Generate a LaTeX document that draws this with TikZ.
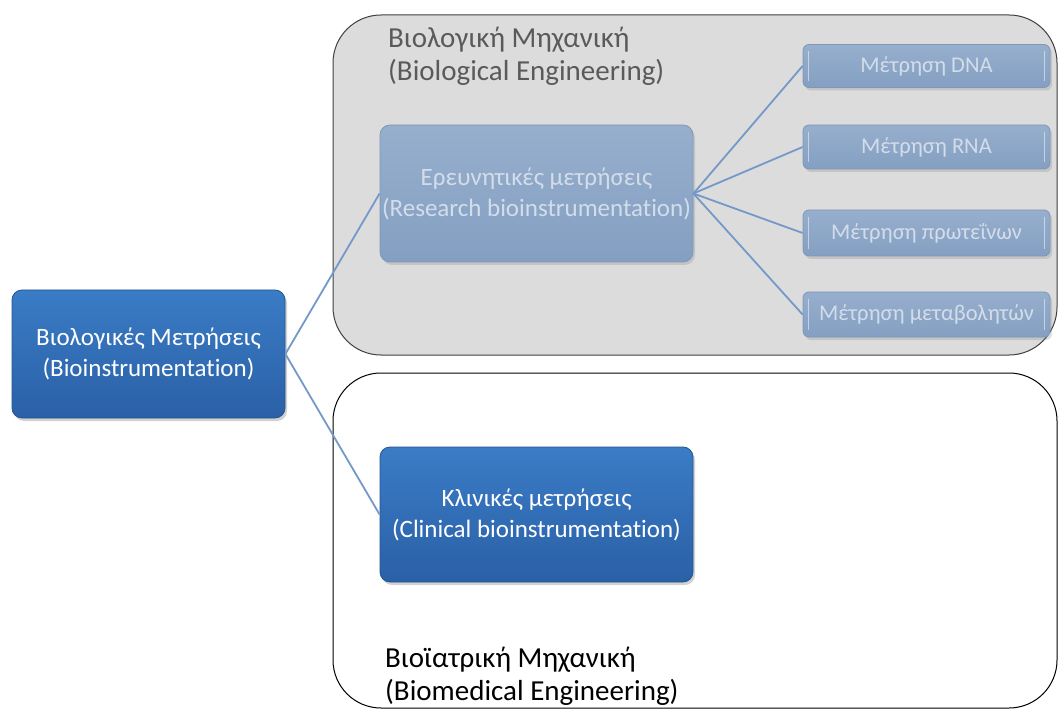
\documentclass[tikz,border=0pt]{standalone}
\usepackage{fontspec}
\setmainfont[RawFeature={-liga;-clig;-calt;-dlig}]{Carlito}
\usetikzlibrary{shadows}
\definecolor{blueTop}{HTML}{3A7CC6}
\definecolor{blueBot}{HTML}{2A60A6}
\definecolor{blueEdge}{HTML}{24558F}
\definecolor{paleTop}{HTML}{97AFCD}
\definecolor{paleBot}{HTML}{849FC2}
\definecolor{paleEdge}{HTML}{7F97B8}
\definecolor{paleText}{HTML}{D3DDEA}
\definecolor{linkCol}{HTML}{7499C9}
\definecolor{regionGray}{HTML}{DCDCDC}
\definecolor{titleGray}{HTML}{5A5A5A}
\tikzset{
  x=1pt, y=-1pt,
  bluebox/.style={rounded corners=10pt, top color=blueTop, bottom color=blueBot,
    draw=blueEdge, line width=0.8pt, text=white, align=center,
    drop shadow={shadow xshift=2pt, shadow yshift=-3pt, opacity=0.35},
    font=\fontsize{25}{31}\selectfont, inner sep=0pt},
  palebox/.style={rounded corners=10pt, top color=paleTop, bottom color=paleBot,
    draw=paleEdge, line width=0.8pt, text=paleText, align=center,
    drop shadow={shadow xshift=2pt, shadow yshift=-3pt, opacity=0.25},
    font=\fontsize{25}{31}\selectfont, inner sep=0pt},
  leafbox/.style={palebox, rounded corners=6pt, font=\fontsize{22.5}{26}\selectfont},
  link/.style={draw=linkCol, line width=1.8pt},
  region/.style={rounded corners=48pt, line width=1pt},
  regiontitle/.style={anchor=north west, align=left, inner sep=0pt,
    font=\fontsize{29}{33}\selectfont}
}
\begin{document}
\begin{tikzpicture}
\useasboundingbox (0,0) rectangle (1060,711);
\fill[white] (0,0) rectangle (1060,711);

% the two engineering regions
\draw[region, fill=regionGray, draw=black!75] (333,15) rectangle (1057,355);
\draw[region, fill=white, draw=black] (333,373) rectangle (1057,708);

\node[regiontitle, text=titleGray] (bioeng) at (388,27)
  {Βιολογική Μηχανική\\(Biological Engineering)};
\node[regiontitle, text=black, anchor=south west] (biomed) at (385,706)
  {Βιοϊατρική Μηχανική\\(Biomedical Engineering)};

% boxes
\node[bluebox, minimum width=273pt, minimum height=128pt] (root) at (148.5,354)
  {Βιολογικές Μετρήσεις\\(Bioinstrumentation)};
\node[palebox, minimum width=313pt, minimum height=137pt] (research) at (536.5,193.5)
  {Ερευνητικές μετρήσεις\\(Research bioinstrumentation)};
\node[bluebox, minimum width=313pt, minimum height=135pt] (clinical) at (536.5,514.5)
  {Κλινικές μετρήσεις\\(Clinical bioinstrumentation)};

\node[leafbox, minimum width=247pt, minimum height=43pt] (dna) at (926.5,66) {Μέτρηση DNA};
\node[leafbox, minimum width=247pt, minimum height=44pt] (rna) at (926.5,147) {Μέτρηση RNA};
\node[leafbox, minimum width=247pt, minimum height=46pt] (prot) at (926.5,233) {Μέτρηση πρωτεΐνων};
\node[leafbox, minimum width=247pt, minimum height=45pt] (meta) at (926.5,314.5) {Μέτρηση μεταβολητών};

% glossy highlight strips at the ends of the leaf boxes
\foreach \n in {dna,rna,prot,meta}{
  \draw[white, opacity=0.5, line width=1.5pt]
    ([xshift=6pt,yshift=-7pt]\n.north west) -- ([xshift=6pt,yshift=7pt]\n.south west);
  \draw[white, opacity=0.5, line width=1.5pt]
    ([xshift=-6pt,yshift=-7pt]\n.north east) -- ([xshift=-6pt,yshift=7pt]\n.south east);
}

% connectors
\draw[link] (root.east) -- (research.west);
\draw[link] (root.east) -- (clinical.west);
\foreach \n in {dna,rna,prot,meta}{
  \draw[link] (research.east) -- (\n.west);
}
\end{tikzpicture}
\end{document}
